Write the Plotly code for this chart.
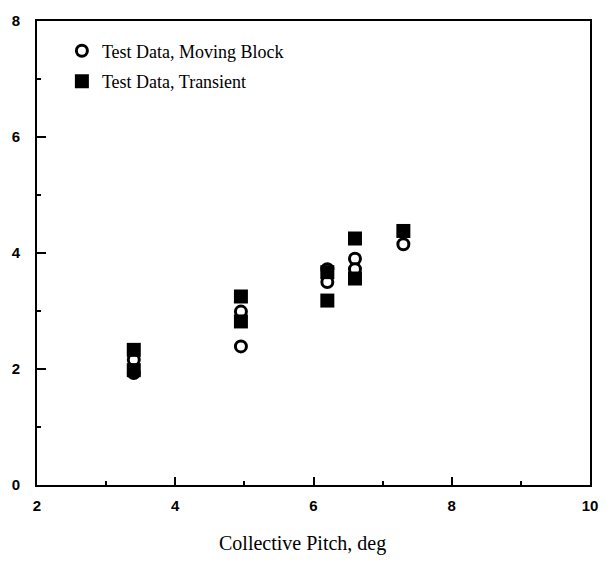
import plotly.graph_objects as go

# Test Data, Moving Block (open circles)
mb_x = [3.4, 3.4, 4.95, 4.95, 6.2, 6.2, 6.6, 6.6, 7.3]
mb_y = [2.16, 1.93, 2.99, 2.39, 3.72, 3.50, 3.90, 3.72, 4.15]

# Test Data, Transient (filled squares)
tr_x = [3.4, 3.4, 4.95, 4.95, 6.2, 6.2, 6.6, 6.6, 7.3]
tr_y = [2.33, 1.98, 3.25, 2.82, 3.67, 3.18, 4.25, 3.56, 4.38]

x_ticks = [2, 4, 6, 8, 10]
x_minor = [3, 5, 7, 9]
y_ticks = [0, 2, 4, 6, 8]
y_minor = [1, 3, 5, 7]

fig = go.Figure()
fig.add_trace(go.Scatter(
    x=mb_x, y=mb_y, mode="markers", name="Test Data, Moving Block",
    legendgroup="a",
    marker=dict(symbol="circle", size=11, color="white",
                line=dict(color="black", width=3)),
))
fig.add_trace(go.Scatter(
    x=tr_x, y=tr_y, mode="markers", name="Test Data, Transient",
    legendgroup="b",
    marker=dict(symbol="square", size=14, color="black",
                line=dict(color="black", width=0)),
))

font_ticks = dict(family="Liberation Sans", size=15, color="black", weight="bold")

fig.update_layout(
    width=610, height=569,
    margin=dict(l=37, r=16, t=12, b=84),
    paper_bgcolor="white", plot_bgcolor="white",
    showlegend=True,
    xaxis=dict(range=[2, 10], tickvals=x_ticks, ticktext=[str(v) for v in x_ticks],
               showline=True, linecolor="black", linewidth=2, mirror=True,
               showgrid=False, zeroline=False,
               ticks="inside", ticklen=8, tickwidth=2, tickcolor="black",
               ticklabelstandoff=6, tickfont=font_ticks),
    yaxis=dict(range=[0, 8], tickvals=y_ticks, ticktext=[str(v) for v in y_ticks],
               showline=True, linecolor="black", linewidth=2, mirror=True,
               showgrid=False, zeroline=False,
               ticks="inside", ticklen=9, tickwidth=2, tickcolor="black",
               ticklabelstandoff=12, tickfont=font_ticks),
    xaxis2=dict(range=[2, 10], overlaying="x", side="bottom", anchor="y",
                tickvals=x_minor, showticklabels=False, showgrid=False, zeroline=False,
                showline=False, ticks="inside", ticklen=4, tickwidth=2, tickcolor="black"),
    yaxis2=dict(range=[0, 8], overlaying="y", side="left", anchor="x",
                tickvals=y_minor, showticklabels=False, showgrid=False, zeroline=False,
                showline=False, ticks="inside", ticklen=4, tickwidth=2, tickcolor="black"),
    legend=dict(x=0.045, y=0.975, xanchor="left", yanchor="top",
                bgcolor="rgba(0,0,0,0)", borderwidth=0,
                tracegroupgap=4,
                font=dict(family="Liberation Serif", size=18, color="black")),
    annotations=[dict(text="Collective Pitch, deg", xref="paper", yref="paper",
                      x=0.48, y=-0.125, xanchor="center", yanchor="middle",
                      showarrow=False,
                      font=dict(family="Liberation Serif", size=20, color="black"))],
)

# invisible trace to activate the minor-tick axes
fig.add_trace(go.Scatter(x=[None], y=[None], xaxis="x2", yaxis="y2",
                         showlegend=False, hoverinfo="skip"))

fig.write_html("out.html")
